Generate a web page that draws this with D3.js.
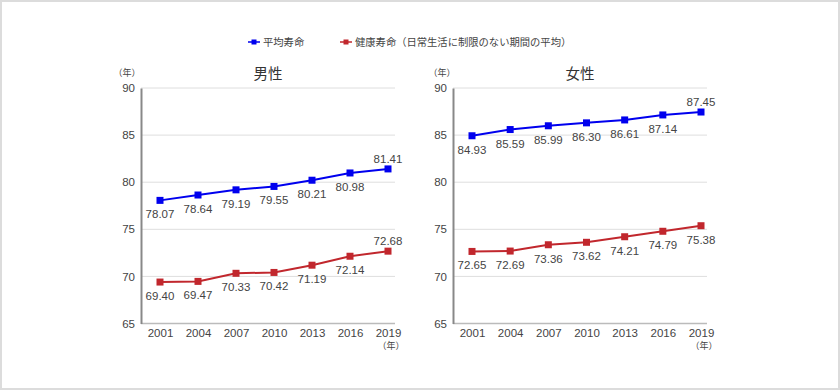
<!DOCTYPE html>
<html><head><meta charset="utf-8">
<script src="https://cdn.jsdelivr.net/npm/d3@7"></script>
<style>
html,body{margin:0;padding:0;background:#fff;}
svg{display:block;font-family:"Noto Sans CJK JP","Noto Sans",sans-serif;}
</style></head>
<body>
<svg id="c" width="840" height="390"></svg>
<script>
const years = ["2001","2004","2007","2010","2013","2016","2019"];
const yTicks = [65,70,75,80,85,90];
const maleAvg = [78.07,78.64,79.19,79.55,80.21,80.98,81.41];
const maleHealthy = [69.40,69.47,70.33,70.42,71.19,72.14,72.68];
const femaleAvg = [84.93,85.59,85.99,86.30,86.61,87.14,87.45];
const femaleHealthy = [72.65,72.69,73.36,73.62,74.21,74.79,75.38];
const seriesNames = ["平均寿命","健康寿命（日常生活に制限のない期間の平均）"];
const panelTitles = ["男性","女性"];
// label placement: true = above the point
const maleAvgAbove = [false,false,false,false,false,false,true];
const maleHealthyAbove = [false,false,false,false,false,false,true];
const femaleAvgAbove = [false,false,false,false,false,false,true];
const femaleHealthyAbove = [false,false,false,false,false,false,false];

const blue = "#0000ee", red = "#c1272d", txt = "#444";
const numFont = "Liberation Sans, Arial, sans-serif";
const svg = d3.select("#c");

// border
svg.append("rect").attr("x",1).attr("y",1).attr("width",838).attr("height",388)
  .attr("fill","#fff").attr("stroke","#dcdcdc").attr("stroke-width",2);

// legend
const lg = svg.append("g");
const legendItems = [{x:248,color:blue,name:seriesNames[0]},{x:340,color:red,name:seriesNames[1]}];
legendItems.forEach(it=>{
  lg.append("line").attr("x1",it.x).attr("x2",it.x+12).attr("y1",42).attr("y2",42)
    .attr("stroke",it.color).attr("stroke-width",1.5);
  lg.append("rect").attr("x",it.x+3.5).attr("y",39.5).attr("width",5).attr("height",5).attr("fill",it.color);
  lg.append("text").attr("x",it.x+15).attr("y",46).attr("font-size",10.3).attr("fill",txt).text(it.name);
});

const panels = [
  {axisX:141, x0:160, x1:388, gridEnd:395, title:panelTitles[0], titleX:268, unitX:127,
   series:[{v:maleAvg,c:blue,above:maleAvgAbove},{v:maleHealthy,c:red,above:maleHealthyAbove}]},
  {axisX:453, x0:472, x1:701, gridEnd:707, title:panelTitles[1], titleX:580, unitX:442,
   series:[{v:femaleAvg,c:blue,above:femaleAvgAbove},{v:femaleHealthy,c:red,above:femaleHealthyAbove}]}
];

panels.forEach(p=>{
  const g = svg.append("g");
  const y = d3.scaleLinear().domain([65,90]).range([323.5,88]);
  const x = d3.scalePoint().domain(years).range([p.x0,p.x1]);
  // gridlines
  g.selectAll(".grid").data(yTicks.filter(t=>t>65)).enter().append("line")
    .attr("x1",p.axisX).attr("x2",p.gridEnd).attr("y1",d=>y(d)).attr("y2",d=>y(d))
    .attr("stroke","#dedede").attr("stroke-width",1);
  // x axis line
  g.append("line").attr("x1",p.axisX).attr("x2",p.gridEnd).attr("y1",y(65)).attr("y2",y(65))
    .attr("stroke","#bbb").attr("stroke-width",1.5);
  // y axis
  const ya = d3.axisLeft(y).tickValues(yTicks).tickSize(0).tickPadding(6);
  const yg = g.append("g").attr("transform",`translate(${p.axisX},0)`).call(ya);
  yg.select(".domain").attr("stroke","#888").attr("stroke-width",2);
  yg.selectAll("text").attr("font-size",11.5).attr("fill",txt).attr("font-family",numFont);
  // x axis labels
  const xa = d3.axisBottom(x).tickSize(0).tickPadding(5);
  const xg = g.append("g").attr("transform",`translate(0,${y(65)})`).call(xa);
  xg.select(".domain").remove();
  xg.selectAll("text").attr("font-size",11.5).attr("fill",txt).attr("font-family",numFont);
  g.append("text").attr("x",x("2019")+3).attr("y",349).attr("text-anchor","middle")
    .attr("font-size",9).attr("fill",txt).text("（年）");
  // titles
  g.append("text").attr("x",p.titleX).attr("y",79).attr("text-anchor","middle")
    .attr("font-size",14.5).attr("fill","#333").text(p.title);
  g.append("text").attr("x",p.unitX).attr("y",76).attr("text-anchor","middle")
    .attr("font-size",9).attr("fill",txt).text("（年）");
  // series
  p.series.forEach(s=>{
    const line = d3.line().x((d,i)=>x(years[i])).y(d=>y(d));
    g.append("path").datum(s.v).attr("d",line).attr("fill","none")
      .attr("stroke",s.c).attr("stroke-width",2);
    g.selectAll(null).data(s.v).enter().append("rect")
      .attr("x",(d,i)=>x(years[i])-3.5).attr("y",d=>y(d)-3.5)
      .attr("width",7).attr("height",7).attr("fill",s.c);
    g.selectAll(null).data(s.v).enter().append("text")
      .attr("x",(d,i)=>x(years[i]))
      .attr("y",(d,i)=>s.above[i] ? y(d)-6 : y(d)+18)
      .attr("text-anchor","middle").attr("font-size",11.5).attr("fill",txt)
      .attr("font-family",numFont)
      .text(d=>d.toFixed(2));
  });
});
</script>
</body></html>
